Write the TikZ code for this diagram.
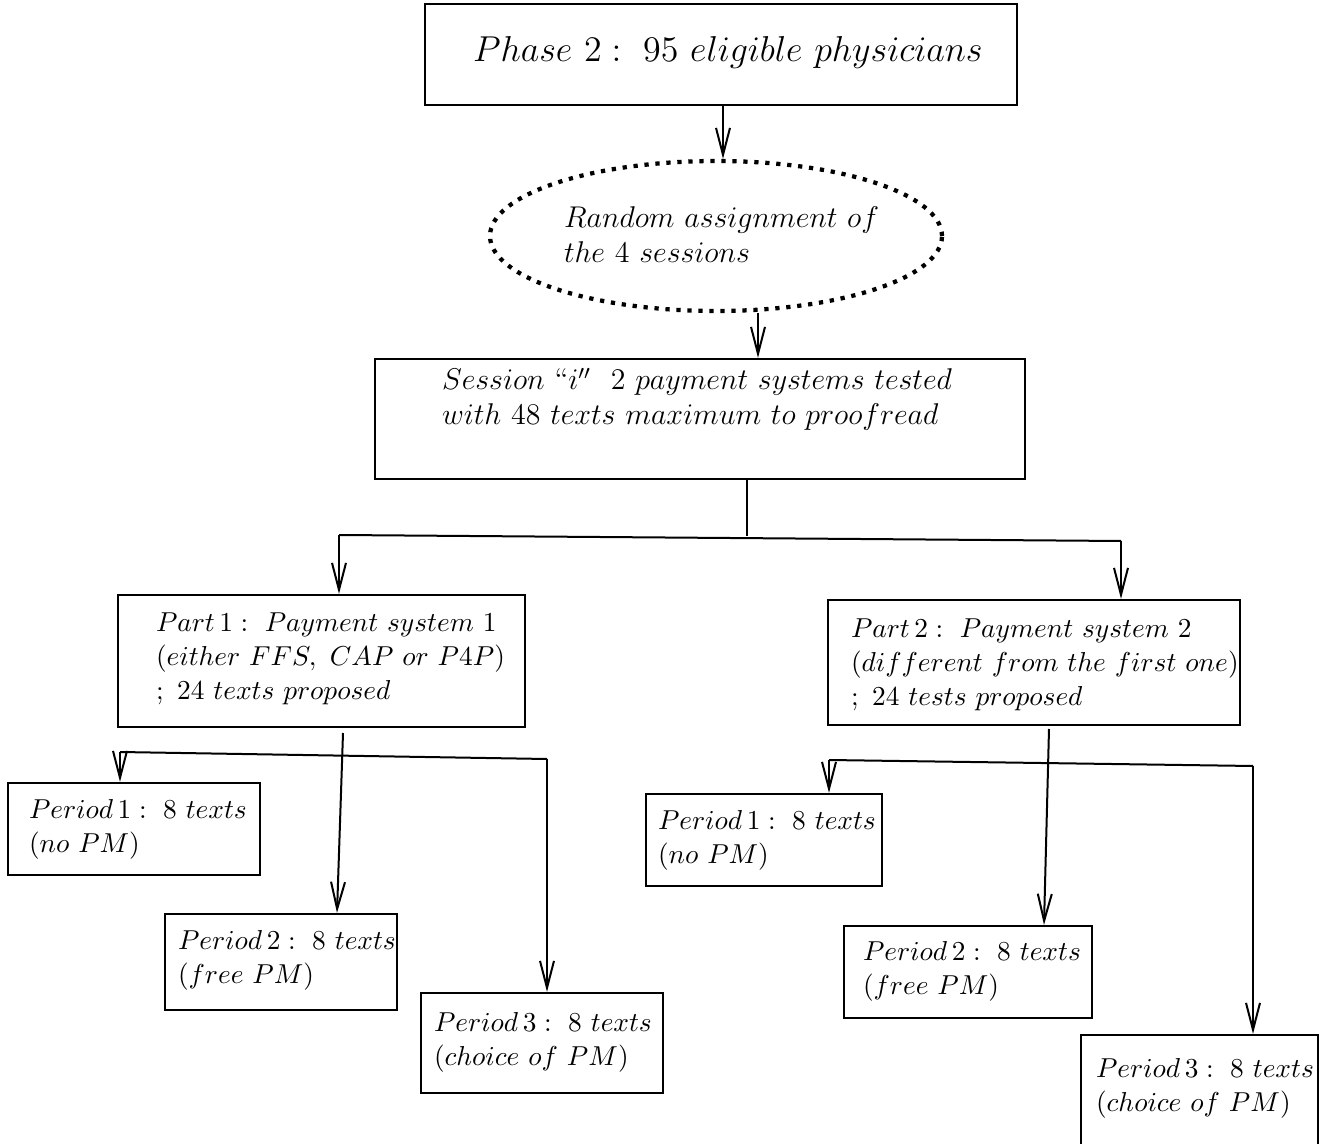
\documentclass[tikz,border=0pt]{standalone}
\usepackage{amsmath,amssymb}
\usepackage{tikz}
\usetikzlibrary{arrows.meta,positioning,shapes,calc,fit}

\begin{document}
\begin{tikzpicture}[
  x=0.4pt, y=-0.4pt,
  box/.style={draw, line width=0.9pt, inner sep=0pt},
  txt/.style={font=\large, align=left, inner sep=0pt, anchor=base west},
  smalltxt/.style={txt, font=\fontsize{11}{13.6}\selectfont},
  randbox/.style={draw, ellipse, line width=1.7pt, dash pattern=on 1.7pt off 2.7pt, minimum width=180.8pt, minimum height=60pt, inner sep=0pt},
  arr/.style={-{Straight Barb[length=10.8pt, width=5.6pt]}},
  line width=0.8pt
]
\useasboundingbox (0,0) rectangle (1327,1144);

% top of the chart
\node [box, fit={(425,4) (1017,105)}] (phase) {};
\node [txt, font=\Large] (phaset) at (472,62) {$Phase\ 2:\ 95\ eligible\ physicians$};

\node [randbox] (rand) at (716,236) {};
\node [txt] (randt) at (563,263) {$Random\ assignment\ of$\\$the\ 4\ sessions$};

\node [box, fit={(375,359) (1025,479)}] (sess) {};
\node [txt] (sesst) at (441,425) {$Session\ \text{``}i''\ \ 2\ payment\ systems\ tested$\\$with\ 48\ texts\ maximum\ to\ proofread$};

% the two parts
\node [box, fit={(118,595) (525,727)}] (part1) {};
\node [smalltxt] (part1t) at (155,700) {$Part\,1:\ Payment\ system\ 1$\\$(either\ FFS,\ CAP\ or\ P4P)$\\$;\ 24\ texts\ proposed$};
\node [box, fit={(828,600) (1240,725)}] (part2) {};
\node [smalltxt] (part2t) at (850,705) {$Part\,2:\ Payment\ system\ 2$\\$(different\ from\ the\ first\ one)$\\$;\ 24\ tests\ proposed$};

% periods of part 1
\node [box, fit={(8,783) (260,875)}] (per1l) {};
\node [smalltxt] (per1lt) at (28,852) {$Period\,1:\ 8\ texts$\\$(no\ PM)$};
\node [box, fit={(165,914) (397,1010)}] (per2l) {};
\node [smalltxt] (per2lt) at (177,983) {$Period\,2:\ 8\ texts$\\$(free\ PM)$};
\node [box, fit={(421,993) (663,1093)}] (per3l) {};
\node [smalltxt] (per3lt) at (433,1065) {$Period\,3:\ 8\ texts$\\$(choice\ of\ PM)$};

% periods of part 2
\node [box, fit={(646,794) (882,886)}] (per1r) {};
\node [smalltxt] (per1rt) at (657,863) {$Period\,1:\ 8\ texts$\\$(no\ PM)$};
\node [box, fit={(844,926) (1092,1018)}] (per2r) {};
\node [smalltxt] (per2rt) at (862,994) {$Period\,2:\ 8\ texts$\\$(free\ PM)$};
\node [box, fit={(1081,1035) (1318,1170)}] (per3r) {};
\node [smalltxt] (per3rt) at (1095,1111) {$Period\,3:\ 8\ texts$\\$(choice\ of\ PM)$};

% branch points
\coordinate (fork) at (747,536);
\coordinate (forkl) at (339,535);
\coordinate (forkr) at (1121,541);
\coordinate (p1out) at (343,733);
\coordinate (forkl1) at (120,752);
\coordinate (forkl3) at (547,759);
\coordinate (p2out) at (1049,729);
\coordinate (forkr1) at (829,760);
\coordinate (forkr3) at (1253,766);

\draw [arr] (phase.south -| 723,0) -- (rand.north -| 723,0);
\draw [arr] (rand.south -| 758,0) -- (sess.north -| 758,0);

\draw (sess.south -| fork) -- (fork);
\draw (forkl) -- (forkr);
\draw [arr] (forkl) -- (forkl |- part1.north);
\draw [arr] (forkr) -- (forkr |- part2.north);

\draw (forkl1) -- (forkl3);
\draw [arr] (forkl1) -- (forkl1 |- per1l.north);
\draw [arr] (p1out) -- (per2l.north -| 337,0);
\draw [arr] (forkl3) -- (forkl3 |- per3l.north);

\draw (forkr1) -- (forkr3);
\draw [arr] (forkr1) -- (forkr1 |- per1r.north);
\draw [arr] (p2out) -- (per2r.north -| 1044,0);
\draw [arr] (forkr3) -- (forkr3 |- per3r.north);
\end{tikzpicture}
\end{document}
